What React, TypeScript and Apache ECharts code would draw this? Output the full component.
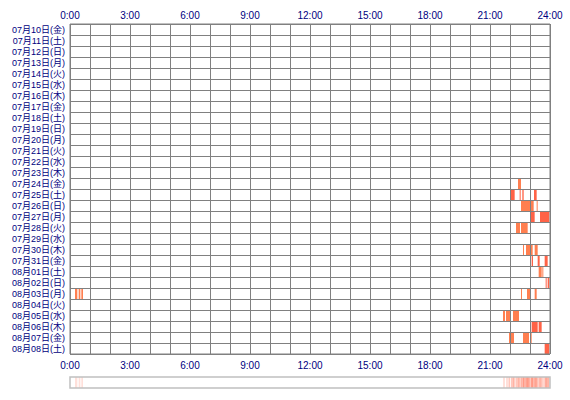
import React, { useEffect, useRef } from "react";
import * as echarts from "echarts";

// Day categories (rows, top to bottom)
const days: string[] = [
  "07月10日(金)", "07月11日(土)", "07月12日(日)", "07月13日(月)", "07月14日(火)",
  "07月15日(水)", "07月16日(木)", "07月17日(金)", "07月18日(土)", "07月19日(日)",
  "07月20日(月)", "07月21日(火)", "07月22日(水)", "07月23日(木)", "07月24日(金)",
  "07月25日(土)", "07月26日(日)", "07月27日(月)", "07月28日(火)", "07月29日(水)",
  "07月30日(木)", "07月31日(金)", "08月01日(土)", "08月02日(日)", "08月03日(月)",
  "08月04日(火)", "08月05日(水)", "08月06日(木)", "08月07日(金)", "08月08日(土)",
];

// Activity sessions: [dayIndex, startMinute, endMinute, level]
const sessions: [number, number, number, number][] = [
  [14, 1344, 1353, 1],
  [15, 1322, 1334, 2], [15, 1349, 1352, 2], [15, 1357, 1361, 2], [15, 1392, 1400, 2],
  [16, 1353, 1380, 1], [16, 1382, 1391, 1], [16, 1400, 1403, 1],
  [17, 1382, 1394, 2], [17, 1410, 1438, 2],
  [18, 1338, 1350, 1], [18, 1353, 1373, 1],
  [20, 1359, 1362, 1], [20, 1368, 1380, 1], [20, 1382, 1388, 1], [20, 1394, 1403, 1],
  [21, 1385, 1389, 2], [21, 1403, 1409, 2], [21, 1424, 1433, 2],
  [22, 1406, 1415, 1], [22, 1417, 1420, 1],
  [23, 1427, 1430, 2], [23, 1433, 1438, 2],
  [24, 15, 22, 1], [24, 26, 31, 1], [24, 34, 39, 1],
  [24, 1353, 1356, 1], [24, 1371, 1380, 1], [24, 1394, 1400, 1],
  [26, 1299, 1305, 1], [26, 1308, 1320, 1], [26, 1329, 1347, 1],
  [27, 1385, 1403, 2], [27, 1406, 1415, 2],
  [28, 1317, 1320, 1], [28, 1323, 1332, 1], [28, 1359, 1377, 1], [28, 1380, 1385, 1],
  [29, 1424, 1438, 2],
];

// Hour axis: minutes 0..1440, labelled every 3 hours
const dayMinutes = 1440;
const hourStep = 60;
const labelEveryHours = 3;

const levelColors: Record<number, string> = { 1: "#ff7f50", 2: "#ff6347" };

const hourLabel = (v: number) =>
  v % (hourStep * labelEveryHours) === 0 ? `${v / hourStep}:00` : "";

export default function App() {
  const ref = useRef<HTMLDivElement>(null);
  useEffect(() => {
    if (!ref.current) return;
    const chart = echarts.init(ref.current, null, { renderer: "svg" });
    const axisFont = {
      color: "#000080",
      fontSize: 10,
      lineHeight: 10,
      fontFamily: "'Liberation Sans', 'Noto Sans CJK JP', sans-serif",
    };
    const dayFont = {
      color: "#000080",
      fontSize: 9,
      lineHeight: 9,
      fontFamily: "'Liberation Sans', 'Noto Sans CJK JP', sans-serif",
    };
    const gridLine = { show: true, lineStyle: { color: "#808080", width: 1 } };
    chart.setOption({
      animation: false,
      backgroundColor: "#ffffff",
      grid: [
        { left: 70, top: 24, width: 480, height: 330, show: true, borderColor: "#808080", borderWidth: 1, z: 5 },
        { left: 70, top: 377, width: 480, height: 11, show: true, borderColor: "#c0c0c0", borderWidth: 1.5, z: 5 },
      ],
      xAxis: [
        {
          gridIndex: 0, type: "value", position: "top", min: 0, max: dayMinutes, interval: hourStep,
          axisLine: { show: false }, axisTick: { show: false }, splitLine: gridLine, z: 5,
          axisLabel: { ...axisFont, margin: 4, formatter: hourLabel, showMinLabel: true, showMaxLabel: true },
        },
        {
          gridIndex: 0, type: "value", position: "bottom", min: 0, max: dayMinutes, interval: hourStep,
          axisLine: { show: false }, axisTick: { show: false }, splitLine: { show: false },
          axisLabel: { ...axisFont, margin: 6, formatter: hourLabel, showMinLabel: true, showMaxLabel: true },
        },
        { gridIndex: 1, type: "value", min: 0, max: dayMinutes, show: false },
      ],
      yAxis: [
        {
          gridIndex: 0, type: "category", data: days, inverse: true,
          axisLine: { show: false }, axisTick: { show: false }, splitLine: gridLine, z: 5,
          axisLabel: { ...dayFont, margin: 5, interval: 0 },
        },
        { gridIndex: 1, type: "category", data: ["all"], show: false },
      ],
      series: [
        {
          type: "custom",
          xAxisIndex: 0,
          yAxisIndex: 0,
          encode: { x: [1, 2], y: 0 },
          data: sessions,
          renderItem: (params: any, api: any) => {
            const d = api.value(0);
            const p0 = api.coord([api.value(1), d]);
            const p1 = api.coord([api.value(2), d]);
            const h = api.size([0, 1])[1];
            return {
              type: "rect",
              shape: { x: p0[0], y: p0[1] - h / 2, width: Math.max(p1[0] - p0[0], 1), height: h },
              style: { fill: levelColors[api.value(3)] },
            };
          },
        },
        {
          type: "custom",
          xAxisIndex: 2,
          yAxisIndex: 1,
          encode: { x: [1, 2] },
          data: sessions,
          renderItem: (params: any, api: any) => {
            const p0 = api.coord([api.value(1), 0]);
            const p1 = api.coord([api.value(2), 0]);
            const h = api.size([0, 1])[1];
            return {
              type: "rect",
              shape: { x: p0[0], y: p0[1] - h / 2, width: Math.max(p1[0] - p0[0], 1), height: h },
              style: { fill: "rgba(255, 99, 71, 0.2)" },
            };
          },
        },
      ],
    });
    return () => chart.dispose();
  }, []);
  return (
    <div
      ref={ref}
      style={{ position: "fixed", left: 0, top: 0, width: 570, height: 400, background: "#fff" }}
    />
  );
}
